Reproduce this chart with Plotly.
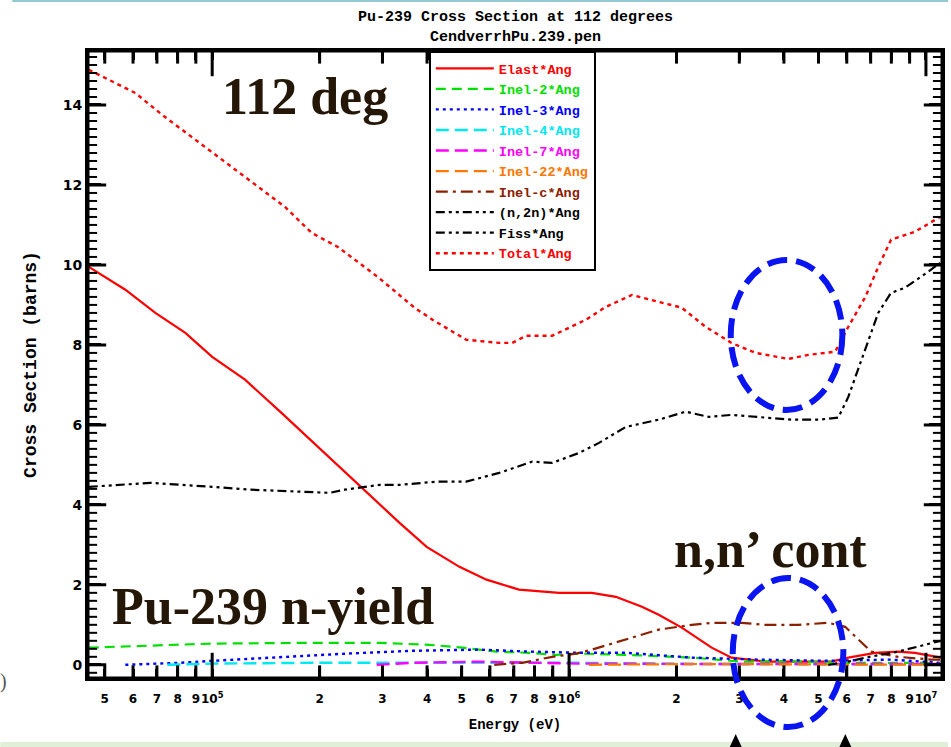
import plotly.graph_objects as go

# ---------------------------------------------------------------------------
# Pu-239 angular cross sections at 112 degrees (energy in eV, sigma in barns)
# ---------------------------------------------------------------------------
elast_E = [4.51e4, 5.71e4, 6.93e4, 8.41e4, 1.0e5, 1.236e5, 1.55e5, 1.9e5, 2.35e5,
           2.85e5, 3.35e5, 3.99e5, 4.93e5, 5.87e5, 7.24e5, 9.38e5, 1.159e6, 1.352e6,
           1.6e6, 1.783e6, 2.069e6, 2.509e6, 2.852e6, 3.551e6, 5.43e6, 6.06e6,
           7.21e6, 8.36e6, 9.32e6, 1.10e7]
elast_xs = [9.95, 9.38, 8.8, 8.3, 7.7, 7.13, 6.33, 5.6, 4.83,
            4.13, 3.55, 2.95, 2.45, 2.13, 1.88, 1.8, 1.8, 1.7,
            1.45, 1.25, 0.93, 0.43, 0.18, 0.08, 0.08, 0.18,
            0.3, 0.33, 0.3, 0.18]

inel2_E = [4.51e4, 6.58e4, 1.0e5, 1.91e5, 2.95e5, 4.06e5, 5.03e5, 6.25e5, 7.74e5,
           9.2e5, 1.067e6, 1.442e6, 2.207e6, 3.042e6, 4.389e6, 6.06e6, 9.93e6, 1.095e7]
inel2_xs = [0.43, 0.48, 0.53, 0.55, 0.55, 0.5, 0.43, 0.33, 0.3,
            0.25, 0.28, 0.25, 0.18, 0.08, 0.08, 0.05, 0.05, 0.03]

inel3_E = [5.71e4, 8.14e4, 1.0e5, 1.55e5, 2.38e5, 3.64e5, 5.6e5, 7.74e5, 1.067e6,
           1.442e6, 2.207e6, 3.395e6, 5.222e6, 7.984e6, 1.095e7]
inel3_xs = [0.0, 0.05, 0.1, 0.2, 0.28, 0.35, 0.38, 0.33, 0.3,
            0.3, 0.18, 0.13, 0.1, 0.13, 0.05]

inel4_E = [7.49e4, 1.0e5, 1.91e5, 3.64e5, 6.93e5, 1.067e6, 2.307e6, 4.389e6, 1.095e7]
inel4_xs = [0.0, 0.03, 0.05, 0.05, 0.05, 0.05, 0.02, 0.01, 0.01]

inel7_E = [2.89e5, 3.64e5, 5.6e5, 8.63e5, 1.067e6, 2.307e6, 1.095e7]
inel7_xs = [0.0, 0.05, 0.08, 0.05, 0.03, 0.02, 0.02]

inel22_E = [1.137e6, 2.307e6, 4.389e6, 1.095e7]
inel22_xs = [0.0, 0.02, 0.01, 0.0]

inelc_E = [6.17e5, 7.39e5, 8.97e5, 1.046e6, 1.159e6, 1.442e6, 1.783e6, 2.207e6,
           2.509e6, 3.042e6, 3.551e6, 4.389e6, 5.325e6, 5.939e6, 6.461e6,
           7.022e6, 8.355e6, 1.033e7, 1.095e7]
inelc_xs = [0.0, 0.05, 0.2, 0.28, 0.38, 0.63, 0.88, 1.0,
            1.05, 1.05, 1.0, 1.0, 1.05, 0.95, 0.63,
            0.33, 0.2, 0.13, 0.13]

n2n_E = [5.325e6, 6.06e6, 6.77e6, 8.36e6, 1.10e7]
n2n_xs = [0.0, 0.08, 0.18, 0.33, 0.6]

fiss_E = [4.51e4, 6.71e4, 1.0e5, 1.277e5, 1.762e5, 2.136e5, 2.353e5, 2.947e5,
          3.35e5, 4.25e5, 5.15e5, 6.37e5, 7.88e5, 8.97e5, 1.067e6, 1.213e6,
          1.442e6, 1.783e6, 2.123e6, 2.462e6, 2.852e6, 3.551e6, 4.2e6, 4.99e6,
          5.68e6, 6.06e6, 6.77e6, 7.35e6, 7.98e6, 8.74e6, 1.014e7, 1.095e7]
fiss_xs = [4.45, 4.55, 4.45, 4.38, 4.33, 4.3, 4.38, 4.5,
           4.5, 4.58, 4.58, 4.8, 5.08, 5.05, 5.3, 5.55,
           5.95, 6.13, 6.33, 6.2, 6.25, 6.18, 6.13, 6.13,
           6.18, 6.7, 7.88, 8.8, 9.3, 9.43, 9.83, 10.05]

total_E = [4.51e4, 6.09e4, 7.25e4, 8.97e4, 1.108e5, 1.38e5, 1.6e5, 1.9e5, 2.25e5,
           2.91e5, 3.69e5, 4.14e5, 5.15e5, 6.37e5, 6.93e5, 7.59e5, 8.97e5,
           1.115e6, 1.268e6, 1.5e6, 1.783e6, 2.069e6, 2.416e6, 2.852e6, 3.329e6,
           4.118e6, 4.677e6, 5.57e6, 6.057e6, 6.765e6, 7.352e6, 7.984e6,
           9.317e6, 1.095e7]
total_xs = [14.88, 14.3, 13.75, 13.13, 12.5, 11.88, 11.45, 10.8, 10.45,
            9.7, 8.93, 8.63, 8.13, 8.05, 8.05, 8.23, 8.23,
            8.63, 8.95, 9.25, 9.08, 8.93, 8.45, 8.05, 7.8,
            7.65, 7.75, 7.83, 8.45, 9.2, 9.95, 10.63,
            10.83, 11.2]

# tick positions / labels
x_tickvals = [5e4, 6e4, 7e4, 8e4, 9e4, 1e5,
              2e5, 3e5, 4e5, 5e5, 6e5, 7e5, 8e5, 9e5, 1e6,
              2e6, 3e6, 4e6, 5e6, 6e6, 7e6, 8e6, 9e6, 1e7]
x_ticktext = ["5", "6", "7", "8", "9", "10<sup>5</sup>",
              "2", "3", "4", "5", "6", "7", "8", "9", "10<sup>6</sup>",
              "2", "3", "4", "5", "6", "7", "8", "9", "10<sup>7</sup>"]
decades = [1e5, 1e6, 1e7]
y_tickvals = [0, 2, 4, 6, 8, 10, 12, 14]
y_ticktext = ["0", "2", "4", "6", "8", "10", "12", "14"]
y_minor_step = 0.2

# ---------------------------------------------------------------------------
W, H = 951, 747
L, R, T, B = 88, 945, 51, 678          # plot-area edges in pixels
PW, PH = R - L, B - T
X_RANGE = [4.652, 7.045]               # log10(eV)
Y_RANGE = [-0.33, 15.35]


def px(x):
    return (x - L) / PW


def py(y):
    return (B - y) / PH


series = [
    ("Elast*Ang", elast_E, elast_xs, "#ff0000", "solid", 2.2),
    ("Inel-2*Ang", inel2_E, inel2_xs, "#00e000", "10px,6px", 2.2),
    ("Inel-3*Ang", inel3_E, inel3_xs, "#0000ff", "3px,4px", 2.4),
    ("Inel-4*Ang", inel4_E, inel4_xs, "#00e8f0", "13px,6px", 2.4),
    ("Inel-7*Ang", inel7_E, inel7_xs, "#ff00ff", "13px,6px", 2.4),
    ("Inel-22*Ang", inel22_E, inel22_xs, "#ff7700", "13px,6px", 2.2),
    ("Inel-c*Ang", inelc_E, inelc_xs, "#8b2000", "12px,5px,3px,5px", 2.2),
    ("(n,2n)*Ang", n2n_E, n2n_xs, "#000000", "9px,4px,3px,4px,3px,4px", 2.2),
    ("Fiss*Ang", fiss_E, fiss_xs, "#000000", "9px,4px,3px,4px,3px,4px", 2.2),
    ("Total*Ang", total_E, total_xs, "#ff0000", "4px,4px", 2.4),
]

fig = go.Figure()
for name, xe, ys, col, dash, w in series:
    fig.add_trace(go.Scatter(
        x=xe, y=ys, mode="lines",
        name=f"<span style='color:{col}'>{name}</span>",
        line=dict(color=col, dash=dash, width=w),
    ))

# inward tick marks: line-shaped markers centred on the frame, the outer half
# is clipped away by the plot area so only the inward half remains
x_lo, x_hi = 10 ** X_RANGE[0], 10 ** X_RANGE[1]
y_lo, y_hi = Y_RANGE
x_major = [v for v in x_tickvals if v in decades]
x_minor = [v for v in x_tickvals if v not in decades]
n_minor = int(round((Y_RANGE[1] + 0.4) / y_minor_step))
y_minor = [round(k * y_minor_step, 2) for k in range(-1, n_minor)]
y_minor = [v for v in y_minor if v not in y_tickvals and y_lo < v < y_hi]

tick_sets = [
    (x_major * 2, [y_lo] * len(x_major) + [y_hi] * len(x_major), "line-ns", 36, 3),
    (x_minor * 2, [y_lo] * len(x_minor) + [y_hi] * len(x_minor), "line-ns", 18, 3),
    ([x_lo] * len(y_tickvals) + [x_hi] * len(y_tickvals), y_tickvals * 2, "line-ew", 26, 3),
    ([x_lo] * len(y_minor) + [x_hi] * len(y_minor), y_minor * 2, "line-ew", 13, 2),
]
for xs, ys, sym, size, lw in tick_sets:
    fig.add_trace(go.Scatter(
        x=xs, y=ys, mode="markers", showlegend=False, hoverinfo="skip", cliponaxis=True,
        marker=dict(symbol=sym, size=size, color="black", line=dict(color="black", width=lw)),
    ))

mono = "Liberation Mono"
serif = "Liberation Serif"
ann_col = "#251708"

fig.update_layout(
    width=W, height=H,
    margin=dict(l=L, r=W - R, t=T, b=H - B),
    paper_bgcolor="white", plot_bgcolor="white",
    showlegend=True,
    title=dict(
        text="Pu-239 Cross Section at 112 degrees<br>CendverrhPu.239.pen",
        xref="paper", x=px(517), xanchor="center",
        yref="container", y=1 - 21 / H, yanchor="middle",
        font=dict(family=mono, size=15, color="black", weight="bold"),
    ),
    legend=dict(
        x=px(430), y=1.0, xanchor="left", yanchor="top",
        bgcolor="white", bordercolor="black", borderwidth=2,
        font=dict(family=mono, size=13.5, weight="bold"),
        tracegroupgap=0, itemwidth=58,
    ),
    xaxis=dict(
        type="log", range=X_RANGE,
        tickmode="array", tickvals=x_tickvals, ticktext=x_ticktext, tickangle=0,
        ticks="inside", ticklen=9, tickwidth=2.5, tickcolor="black",
        ticklabelstandoff=8,
        showline=True, linewidth=3, linecolor="black", mirror="allticks",
        showgrid=False, zeroline=False,
        tickfont=dict(family="DejaVu Sans", size=12, color="black", weight="bold"),
        title=dict(text="Energy (eV)", standoff=14,
                   font=dict(family=mono, size=14, color="black", weight="bold")),
    ),
    yaxis=dict(
        range=Y_RANGE,
        tickmode="array", tickvals=y_tickvals, ticktext=y_ticktext,
        ticks="inside", ticklen=13, tickwidth=2.5, tickcolor="black",
        showline=True, linewidth=3, linecolor="black", mirror="allticks",
        showgrid=False, zeroline=False,
        tickfont=dict(family="DejaVu Sans", size=14, color="black", weight="bold"),
        title=dict(text="Cross Section (barns)", standoff=22,
                   font=dict(family=mono, size=18, color="black", weight="bold")),
    ),
)

# plot frame
fig.add_shape(type="rect", xref="paper", yref="paper", x0=0, x1=1, y0=0, y1=1,
              line=dict(color="black", width=3), fillcolor="rgba(0,0,0,0)")

# slide annotations
for text, cx, cy in [("112 deg", 306, 96), ("Pu-239 n-yield", 274, 606), ("n,n\u2019 cont", 773, 549)]:
    fig.add_annotation(
        text=text, x=px(cx), y=py(cy), xref="paper", yref="paper",
        xanchor="center", yanchor="middle", showarrow=False,
        font=dict(family=serif, size=52, color=ann_col, weight="bold"),
    )

fig.add_annotation(text=")", x=px(3), y=py(681), xref="paper", yref="paper",
                   xanchor="center", yanchor="middle", showarrow=False,
                   font=dict(family=serif, size=20, color="#555555"))

# highlight ellipses
for x0, x1, y0, y1 in [(733, 845, 260, 410), (735, 846, 578, 727)]:
    fig.add_shape(type="circle", xref="paper", yref="paper",
                  x0=px(x0), x1=px(x1), y0=py(y1), y1=py(y0),
                  line=dict(color="#0a14f0", width=6, dash="20px,9px"))

# slide decorations: top rule, bottom band, arrow heads
fig.add_shape(type="rect", xref="paper", yref="paper", layer="below",
              x0=px(12), x1=px(951), y0=py(2), y1=py(0),
              fillcolor="#93c9d1", line=dict(width=0))
fig.add_shape(type="rect", xref="paper", yref="paper", layer="below",
              x0=px(0), x1=px(951), y0=py(747), y1=py(742),
              fillcolor="#e2efd8", line=dict(width=0))
for cx in (738, 848):
    fig.add_shape(type="path", xref="paper", yref="paper",
                  path=f"M {px(cx - 6)} {py(747)} L {px(cx)} {py(734)} L {px(cx + 6)} {py(747)} Z",
                  fillcolor="black", line=dict(width=0))

fig.write_html("out.html")
